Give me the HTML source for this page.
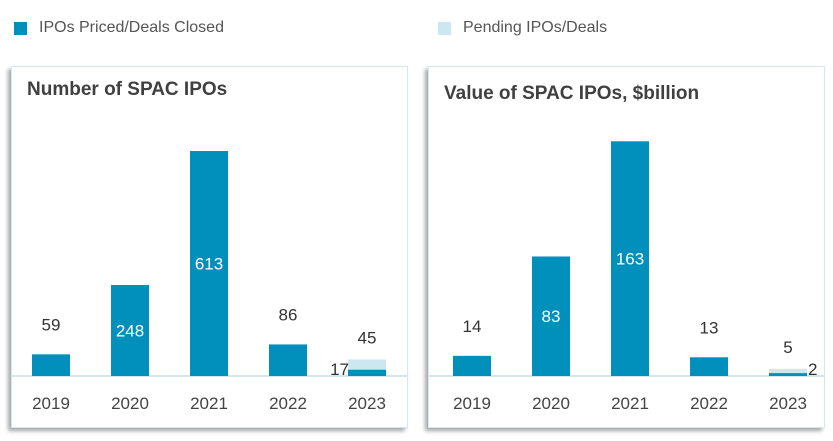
<!DOCTYPE html>
<html><head><meta charset="utf-8"><style>
body{margin:0;width:833px;height:441px;background:#fff;font-family:"Liberation Sans",sans-serif;overflow:hidden;position:relative}
.leg{position:absolute;top:19px;font-size:16px;color:#555;display:flex;align-items:center}
.leg i{display:inline-block;width:13px;height:13px;margin-right:12px}
.panel{position:absolute;top:66px;width:395px;height:360px;border:1px solid #d6e6ee;box-shadow:-3px 3px 4px rgba(0,0,0,0.35);background:#fff}
.title{position:absolute;left:15px;top:12px;font-size:19px;font-weight:bold;color:#404040}
svg{position:absolute;left:0;top:0}
</style></head><body>
<div class="leg" style="left:14px"><i style="background:#0090bb"></i>IPOs Priced/Deals Closed</div>
<div class="leg" style="left:438px"><i style="background:#cce7f0"></i>Pending IPOs/Deals</div>
<div class="panel" style="left:11px"><div class="title">Number of SPAC IPOs</div><svg id="c1" width="395" height="360"></svg></div>
<div class="panel" style="left:428px"><div class="title" style="top:16px">Value of SPAC IPOs, $billion</div><svg id="c2" width="395" height="360"></svg></div>
<script>
const years=["2019","2020","2021","2022","2023"];
const countClosed=[59,248,613,86,17];
const countPending=[0,0,0,0,45];
const valueClosed=[14,83,163,13,2];
const valuePending=[0,0,0,0,5];
const NS="http://www.w3.org/2000/svg";
function mk(p,t,a){const e=document.createElementNS(NS,t);for(const k in a)e.setAttribute(k,a[k]);p.appendChild(e);return e;}
function draw(id,closed,pend,scale,x0,step,closedRight){
 const s=document.getElementById(id),base=309,bw=38;
 const ax=mk(s,'line',{x1:0,x2:395,y1:base,y2:base,stroke:'#d6e6ee','stroke-width':2});
 
 years.forEach((y,i)=>{
  const cx=x0+i*step;
  if(pend[i]>0){const h=pend[i]*scale;const r=mk(s,'rect',{x:cx-bw/2,y:base-h,width:bw,height:h,fill:'#cce7f0'});
   }
  const h=closed[i]*scale;
  const r=mk(s,'rect',{x:cx-bw/2,y:base-h,width:bw,height:h,fill:'#0090bb'});
  
  const inside=h>60;
  let lx=cx,ly,col='#333',anc='middle';
  if(pend[i]>0){
   const t=mk(s,'text',{x:cx,y:base-pend[i]*scale-16,'text-anchor':'middle','font-size':17,fill:'#333'});t.textContent=pend[i];
   
   if(closedRight){lx=cx+bw/2+1;anc='start';}else{lx=cx-bw/2+1;anc='end';}
   ly=base-1;
  } else if(inside){ly=base-h/2+6;col='#fff';}
  else ly=base-h-24;
  const t=mk(s,'text',{x:lx,y:ly,'text-anchor':anc,'font-size':17,fill:col});t.textContent=closed[i];
  
  const yl=mk(s,'text',{x:cx,y:342,'text-anchor':'middle','font-size':17,fill:'#444'});yl.textContent=y;
  
 });
}
draw('c1',countClosed,countPending,0.367,39,79,false);
draw('c2',valueClosed,valuePending,1.44,43,79,true);
</script>
</body></html>
